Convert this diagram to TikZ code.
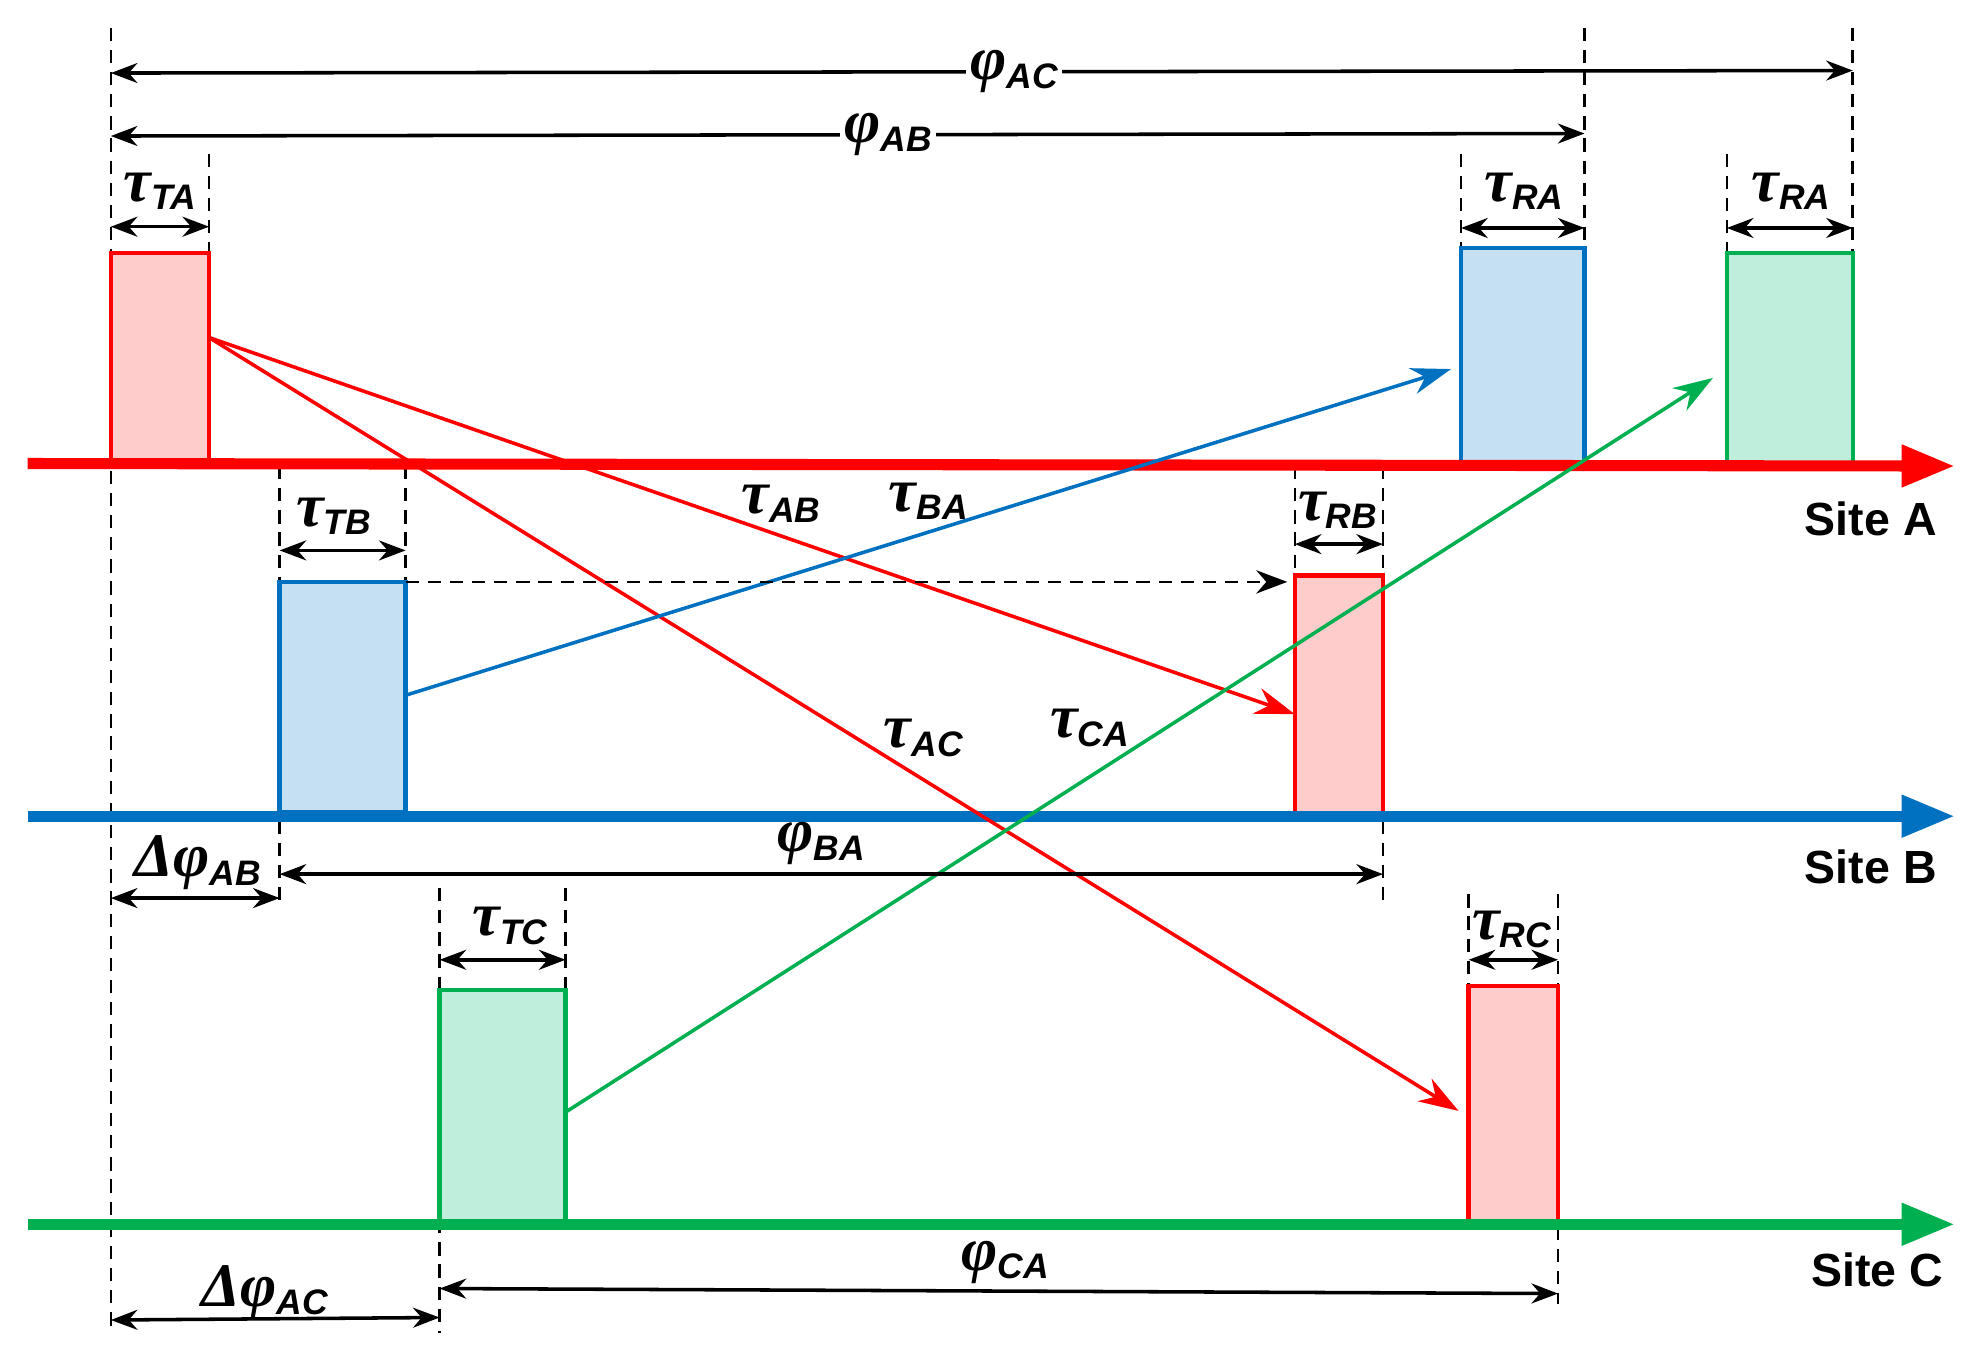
\documentclass[tikz,border=0pt]{standalone}
\usepackage{fontspec}
\setmainfont{Liberation Sans}
\newfontfamily\gk{Liberation Serif}
\usetikzlibrary{arrows.meta}
\definecolor{rA}{RGB}{255,0,0}
\definecolor{bB}{RGB}{0,112,192}
\definecolor{gC}{RGB}{0,176,80}
\definecolor{rF}{RGB}{255,204,204}
\definecolor{bF}{RGB}{197,224,242}
\definecolor{gF}{RGB}{192,238,220}
\newcommand{\lab}[2]{{\gk\bfseries\itshape\fontsize{14}{14}\selectfont #1}{\bfseries\itshape\fontsize{8}{8}\selectfont\raisebox{-0.45ex}{#2}}}
\begin{document}
\begin{tikzpicture}[x=0.01cm,y=-0.01cm,
 dsh/.style={densely dashed,black,line width=0.6pt},
 dim/.style={black,line width=0.8pt,{Stealth[length=6pt]}-{Stealth[length=6pt]}},
 ax/.style={line width=2.5pt,-{Triangle[length=12pt,width=9pt]}},
 sig/.style={line width=0.8pt,-{Stealth[length=9pt,width=6pt]}},
 txt/.style={inner sep=1pt},
 site/.style={font=\bfseries\fontsize{10.5}{10.5}\selectfont}]
\useasboundingbox (0,0) rectangle (1568,1076);
% dashed verticals
\foreach \x/\a/\b in {88/22/1058,166/122/200,1160/122/197,1258/22/370,1371/122/201,1471/22/201,222/370/720,322/370/462,1028/370/457,1098/370/715,349/705/1058,449/705/786,1166/710/783,1237/710/1035}
  \draw[dsh] (\x,\a) -- (\x,\b);
% boxes
\draw[rA,fill=rF,line width=1pt] (88,201) rectangle (166,365);
\draw[bB,fill=bF,line width=1pt] (1160,197) rectangle (1258,370);
\draw[gC,fill=gF,line width=1pt] (1371,201) rectangle (1471,370);
\draw[bB,fill=bF,line width=1pt] (222,462) rectangle (322,645);
\draw[rA,fill=rF,line width=1pt] (1028,457) rectangle (1098,647);
\draw[gC,fill=gF,line width=1pt] (349,786) rectangle (449,970);
\draw[rA,fill=rF,line width=1pt] (1166,783) rectangle (1237,972);
% axes
\coordinate (a0) at (22,368); \coordinate (a1) at (1552,370);
\coordinate (b0) at (22,648); \coordinate (b1) at (1552,648);
\coordinate (c0) at (22,972); \coordinate (c1) at (1552,972);
\draw[ax,rA] (a0) -- (a1);
\draw[ax,bB] (b0) -- (b1);
\draw[ax,gC] (c0) -- (c1);
\node[site,anchor=east] (sA) at (1550,412) {Site A};
\node[site,anchor=east] (sB) at (1550,688) {Site B};
\node[site,anchor=east] (sC) at (1555,1008) {Site C};
% signals
\coordinate (s1) at (166,268); \coordinate (e1) at (1028,567); \coordinate (e2) at (1158,882);
\coordinate (s3) at (322,552); \coordinate (e3) at (1152,293);
\coordinate (s4) at (449,883); \coordinate (e4) at (1360,300);
\draw[sig,rA] (s1) -- (e1);
\draw[sig,rA] (s1) -- (e2);
\draw[sig,bB] (s3) -- (e3);
\draw[sig,gC] (s4) -- (e4);
\coordinate (d0) at (322,462); \coordinate (d1) at (1022,462);
\draw[dsh,-{Stealth[length=7pt]}] (d0) -- (d1);
% dimension arrows
\draw[dim] (88,58) -- (1471,56);
\node[txt,fill=white] (pAC) at (805,57) {\lab{φ}{AC}};
\draw[dim] (88,108) -- (1258,106);
\node[txt,fill=white] (pAB) at (705,107) {\lab{φ}{AB}};
\draw[dim] (88,180) -- (166,180); \node[txt] (tTA) at (127,152) {\lab{τ}{TA}};
\draw[dim] (1160,181) -- (1258,181); \node[txt] (tRA1) at (1210,152) {\lab{τ}{RA}};
\draw[dim] (1371,181) -- (1471,181); \node[txt] (tRA2) at (1422,152) {\lab{τ}{RA}};
\draw[dim] (222,437) -- (322,437); \node[txt] (tTB) at (265,410) {\lab{τ}{TB}};
\draw[dim] (1028,432) -- (1098,432); \node[txt] (tRB) at (1062,405) {\lab{τ}{RB}};
\draw[dim] (88,713) -- (222,713); \node[txt] (dAB) at (157,685) {\lab{Δφ}{AB}};
\draw[dim] (222,694) -- (1098,694); \node[txt] (pBA) at (652,670) {\lab{φ}{BA}};
\draw[dim] (349,762) -- (449,762); \node[txt] (tTC) at (405,735) {\lab{τ}{TC}};
\draw[dim] (1166,762) -- (1237,762); \node[txt] (tRC) at (1200,738) {\lab{τ}{RC}};
\draw[dim] (88,1048) -- (349,1046); \node[txt] (dAC) at (210,1026) {\lab{Δφ}{AC}};
\draw[dim] (349,1023) -- (1237,1027); \node[txt] (pCA) at (798,1002) {\lab{φ}{CA}};
\node[txt] (tAB) at (620,400) {\lab{τ}{AB}};
\node[txt] (tBA) at (737,398) {\lab{τ}{BA}};
\node[txt] (tAC) at (733,586) {\lab{τ}{AC}};
\node[txt] (tCA) at (865,578) {\lab{τ}{CA}};
\end{tikzpicture}
\end{document}
